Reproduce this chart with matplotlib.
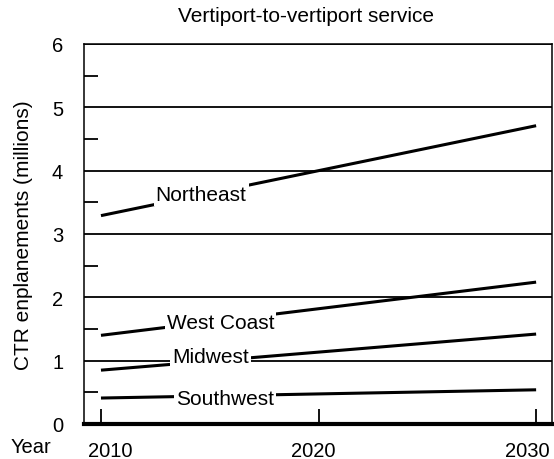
import matplotlib
matplotlib.use("Agg")
import matplotlib.pyplot as plt
from matplotlib.ticker import FixedLocator
from matplotlib.transforms import ScaledTranslation

plt.rcParams['font.family'] = ['Liberation Sans', 'DejaVu Sans']

years = [2010, 2030]
northeast = [3.29, 4.71]
west_coast = [1.40, 2.24]
midwest = [0.85, 1.42]
southwest = [0.41, 0.54]

series = [
    ("Northeast", northeast, (2014.6, 3.63)),
    ("West Coast", west_coast, (2015.5, 1.60)),
    ("Midwest", midwest, (2015.05, 1.06)),
    ("Southwest", southwest, (2015.7, 0.41)),
]

x_ticks = [2010, 2020, 2030]
y_ticks = [0, 1, 2, 3, 4, 5, 6]
y_minor = [0.5, 1.5, 2.5, 3.5, 4.5, 5.5]

fig = plt.figure(figsize=(5.54, 4.60), dpi=100)
ax = fig.add_axes([84/554, 1-425/460, (552-84)/554, (425-45)/460])

ax.set_xlim(2009.22, 2030.73)
ax.set_ylim(0, 6)

for name, vals, (lx, ly) in series:
    ax.plot(years, vals, color='black', lw=2.2, solid_capstyle='butt', zorder=3)
    ax.text(lx, ly, name, fontsize=15, ha='center', va='center', zorder=5,
            bbox=dict(facecolor='white', edgecolor='none', pad=1.5))

ax.set_xticks(x_ticks)
ax.set_xticklabels([str(x) for x in x_ticks])
ax.set_yticks(y_ticks)
ax.set_yticklabels([str(y) for y in y_ticks])
ax.yaxis.set_minor_locator(FixedLocator(y_minor))

ax.grid(axis='y', which='major', color='black', lw=1.3, zorder=1)
ax.set_axisbelow(True)

ax.tick_params(axis='x', which='major', direction='in', length=11, width=1.3,
               labelsize=14.5, pad=12)
ax.tick_params(axis='y', which='major', length=0, labelsize=14.5, pad=15)
ax.tick_params(axis='y', which='minor', direction='in', length=10, width=1.3)

# shift outer year labels slightly inward, as in the reference
offsets_px = [9, -5, -9]
for lbl, dx in zip(ax.get_xticklabels(), offsets_px):
    lbl.set_transform(lbl.get_transform() +
                      ScaledTranslation(dx/100, 0, fig.dpi_scale_trans))

for s in ['left', 'right', 'top']:
    ax.spines[s].set_linewidth(1.1)
ax.spines['bottom'].set_linewidth(3.0)

ax.set_ylabel("CTR enplanements (millions)", fontsize=15)
ax.yaxis.set_label_coords(-(84-33)/468, 0.5)

fig.text(306/554, 1-17/460, "Vertiport-to-vertiport service", fontsize=15,
         ha='center', va='center')
fig.text(31/554, 1-448/460, "Year", fontsize=14.5, ha='center', va='center')

fig.savefig("out.png", dpi=100)
